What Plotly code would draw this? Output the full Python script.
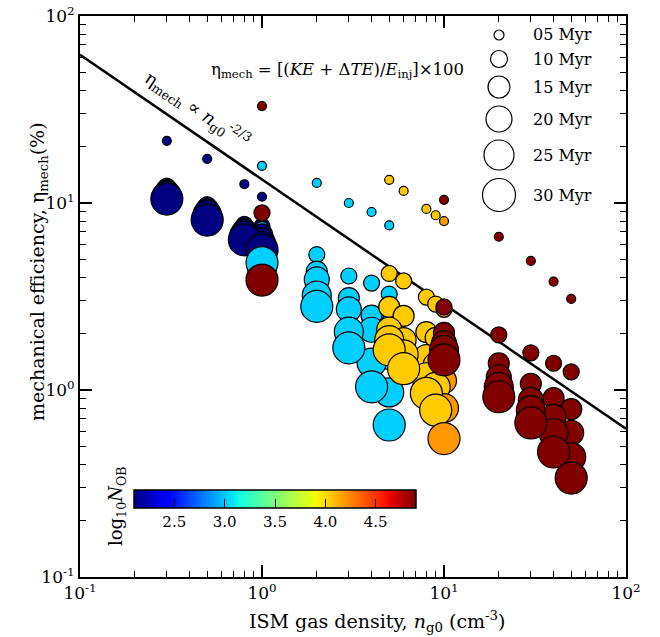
import plotly.graph_objects as go

# ---------------- data ----------------
times_myr = [5, 10, 15, 20, 25, 30]

# each series: gas density n_g0, log10 N_OB, eta_mech (%) at the six times
series_density = [0.3, 0.5, 0.8, 1.0,
                  1.0, 2.0, 3.0, 4.0, 5.0,
                  5.0, 6.0, 8.0, 9.0,
                  10.0,
                  1.0, 10.0, 20.0, 30.0, 40.0, 50.0]
series_logN = [2.1, 2.1, 2.1, 2.1,
               3.02, 3.02, 3.02, 3.02, 3.02,
               4.05, 4.05, 4.05, 4.05,
               4.2,
               4.9, 4.9, 4.9, 4.9, 4.9, 4.9]
series_eta = [
    [21.5, 12.3, 11.8, 11.3, 10.9, 10.5],
    [17.2, 9.8, 9.4, 9.0, 8.6, 8.1],
    [12.6, 7.7, 7.3, 7.0, 6.7, 6.35],
    [10.8, 7.5, 6.8, 6.3, 5.9, 5.6],
    [15.8, 7.2, 6.2, 5.5, 5.1, 4.8],
    [12.8, 5.3, 4.3, 3.9, 3.2, 2.8],
    [10.0, 4.07, 3.1, 2.7, 2.05, 1.68],
    [8.95, 3.73, 2.5, 2.1, 1.4, 1.04],
    [7.6, 3.26, 2.2, 1.5, 0.97, 0.65],
    [13.3, 4.2, 2.78, 2.1, 1.85, 1.64],
    [11.6, 3.83, 2.49, 1.85, 1.55, 1.3],
    [9.3, 3.14, 2.04, 1.5, 1.17, 0.96],
    [8.6, 2.88, 1.9, 1.36, 1.04, 0.78],
    [8.0, 2.7, 1.6, 1.12, 0.8, 0.55],
    [33.0, 8.85, 6.5, 5.3, 4.5, 3.87],
    [10.4, 2.78, 2.02, 1.78, 1.64, 1.45],
    [6.6, 1.97, 1.39, 1.17, 1.04, 0.92],
    [4.9, 1.58, 1.08, 0.885, 0.78, 0.667],
    [3.8, 1.39, 0.906, 0.718, 0.589, 0.466],
    [3.07, 1.25, 0.79, 0.59, 0.438, 0.338],
]

# scaling relation eta ∝ n^(-2/3)
line_coeff = 13.36
line_slope = -2.0 / 3.0

axis_tick_vals = [0.1, 1, 10, 100]
axis_tick_text = ["10<sup>-1</sup>", "10<sup>0</sup>", "10<sup>1</sup>", "10<sup>2</sup>"]
cbar_ticks = [2.5, 3.0, 3.5, 4.0, 4.5]
legend_labels = ["05 Myr", "10 Myr", "15 Myr", "20 Myr", "25 Myr", "30 Myr"]

# ---------------- styles ----------------
marker_size = {5: 9, 10: 16, 15: 21, 20: 25, 25: 29, 30: 32}
FONT = "DejaVu Serif"


def jet_scale():
    red = [(0, 0), (0.35, 0), (0.66, 1), (0.89, 1), (1, 0.5)]
    green = [(0, 0), (0.125, 0), (0.375, 1), (0.64, 1), (0.91, 0), (1, 0)]
    blue = [(0, 0.5), (0.11, 1), (0.34, 1), (0.65, 0), (1, 0)]

    def interp(pts, t):
        for (a, va), (b, vb) in zip(pts, pts[1:]):
            if a <= t <= b:
                return va + (vb - va) * (t - a) / (b - a)
        return pts[-1][1]

    stops = sorted(set([p[0] for p in red + green + blue]))
    out = []
    for t in stops:
        r, g, b = (int(round(255 * interp(c, t))) for c in (red, green, blue))
        out.append([t, f"rgb({r},{g},{b})"])
    return out


# build points ordered by time (small circles drawn first)
xs, ys, cs, ss = [], [], [], []
for ti, t in enumerate(times_myr):
    for d, ln, eta in zip(series_density, series_logN, series_eta):
        xs.append(d)
        ys.append(eta[ti])
        cs.append(ln)
        ss.append(marker_size[t])

# plot area in pixels: x 80..626, y 16..577
L, R, T, B = 80, 626, 16, 577
W, H = R - L, B - T
FIG_W, FIG_H = 660, 637


def px(xp):
    return (xp - L) / W


def py(yp):
    return (B - yp) / H


fig = go.Figure()

xr = [0.1, 100.0]
fig.add_trace(go.Scatter(
    x=xr, y=[line_coeff * v ** line_slope for v in xr],
    mode="lines", line=dict(color="black", width=2.5),
    showlegend=False, hoverinfo="skip"))

fig.add_trace(go.Scatter(
    x=xs, y=ys, mode="markers", showlegend=False,
    marker=dict(
        size=ss, color=cs, colorscale=jet_scale(), cmin=2.1, cmax=4.9,
        line=dict(color="black", width=1.2), opacity=1,
        showscale=True,
        colorbar=dict(
            orientation="h", x=px(275), xanchor="center",
            y=py(490), yanchor="top",
            len=282, lenmode="pixels", thickness=18, thicknessmode="pixels",
            outlinewidth=1.5, outlinecolor="black",
            tickvals=cbar_ticks, ticktext=[f"{v:.1f}" for v in cbar_ticks],
            ticks="inside", ticklen=9, tickwidth=1.3, tickcolor="black",
            tickfont=dict(family=FONT, size=15, color="black"),
            xpad=0, ypad=0,
        ),
    ),
    hoverinfo="skip"))

# invisible trace that anchors the minor-tick overlay axes
fig.add_trace(go.Scatter(x=[1], y=[1], xaxis="x2", yaxis="y2", mode="markers",
                         marker=dict(opacity=0), showlegend=False, hoverinfo="skip"))


def minor_vals():
    vals = []
    for e in (-1, 0, 1):
        for m in range(2, 10):
            vals.append(m * 10.0 ** e)
    return vals


major = dict(
    type="log", range=[-1, 2], showgrid=False, zeroline=False,
    showline=True, linecolor="black", linewidth=2, mirror="ticks",
    ticks="inside", ticklen=12, tickwidth=1.5, tickcolor="black",
    tickmode="array", tickvals=axis_tick_vals, ticktext=axis_tick_text,
    tickfont=dict(family=FONT, size=17, color="black"),
    ticklabeloverflow="allow",
)
minor = dict(
    type="log", range=[-1, 2], showgrid=False, zeroline=False,
    showline=True, linecolor="black", linewidth=2, mirror="ticks",
    ticks="inside", ticklen=6, tickwidth=1.2, tickcolor="black",
    tickmode="array", tickvals=minor_vals(), showticklabels=False,
)

fig.update_layout(
    xaxis=major, yaxis=major,
    xaxis2=dict(overlaying="x", anchor="y2", side="bottom", **minor),
    yaxis2=dict(overlaying="y", anchor="x2", side="left", **minor),
)

ann = []


def add_text(xp, yp, text, size, angle=0, xanchor="center"):
    ann.append(dict(x=px(xp), y=py(yp), xref="paper", yref="paper",
                    xanchor=xanchor, yanchor="middle", textangle=angle,
                    text=text, showarrow=False,
                    font=dict(family=FONT, size=size, color="black")))


add_text(377, 621, "ISM gas density, <i>n</i><sub>g0</sub> (cm<sup>-3</sup>)", 19)
add_text(38, 272, "mechanical efficiency, η<sub>mech</sub>(%)", 19, angle=-90)
add_text(337, 70, "η<sub>mech</sub> = [(<i>KE</i> + Δ<i>TE</i>)/<i>E</i><sub>inj</sub>]×100", 16.5)
add_text(197, 109, "η<sub>mech</sub> ∝ <i>n</i><sub>g0</sub><sup>-2/3</sup>", 18, angle=34)
add_text(117, 506, "log<sub>10</sub><i>N</i><sub>OB</sub>", 18, angle=-90)

# size legend
leg_y = [35, 59, 87, 119, 155, 195]
shapes = []
for t, lab, yp in zip(times_myr, legend_labels, leg_y):
    r = (marker_size[t] + 1) / 2
    shapes.append(dict(type="circle", xref="paper", yref="paper",
                       xsizemode="pixel", ysizemode="pixel",
                       xanchor=px(499), yanchor=py(yp),
                       x0=-r, x1=r, y0=-r, y1=r,
                       line=dict(color="black", width=1.2), fillcolor="white"))
    add_text(531, yp, lab, 16, xanchor="left")

fig.update_layout(
    width=FIG_W, height=FIG_H,
    margin=dict(l=L, r=FIG_W - R, t=T, b=FIG_H - B, autoexpand=False),
    paper_bgcolor="white", plot_bgcolor="white",
    annotations=ann, shapes=shapes, showlegend=False,
)

# remove the browser's default page margin so the figure sits at (0, 0)
fig.write_html("out.html",
               config={"displayModeBar": False},
               post_script="document.body.style.margin='0';"
                           "document.body.style.overflow='hidden';")
